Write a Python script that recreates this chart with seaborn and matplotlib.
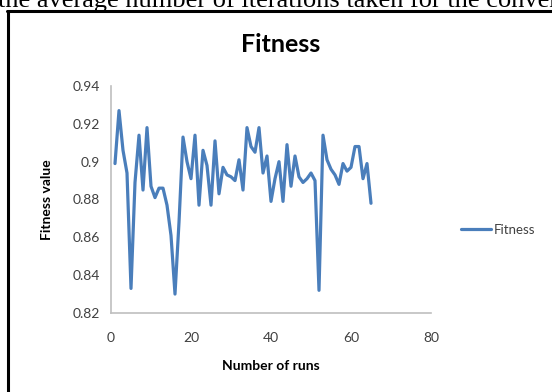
import matplotlib
matplotlib.use("Agg")
import matplotlib.pyplot as plt
from matplotlib.lines import Line2D
import seaborn as sns
import pandas as pd

runs = list(range(1, 66))
fitness = [0.899, 0.927, 0.906, 0.894, 0.833, 0.889, 0.914, 0.885, 0.918, 0.887,
           0.881, 0.886, 0.886, 0.877, 0.861, 0.830, 0.868, 0.913, 0.900, 0.891,
           0.914, 0.877, 0.906, 0.898, 0.877, 0.911, 0.883, 0.897, 0.893, 0.892,
           0.890, 0.901, 0.885, 0.918, 0.908, 0.905, 0.918, 0.894, 0.903, 0.879,
           0.891, 0.900, 0.879, 0.909, 0.887, 0.903, 0.892, 0.889, 0.891, 0.894,
           0.890, 0.832, 0.914, 0.901, 0.896, 0.893, 0.888, 0.899, 0.895, 0.897,
           0.908, 0.908, 0.891, 0.899, 0.878]
x_ticks = [0, 20, 40, 60, 80]
y_ticks = [0.82, 0.84, 0.86, 0.88, 0.9, 0.92, 0.94]
y_tick_labels = ["0.82", "0.84", "0.86", "0.88", "0.9", "0.92", "0.94"]

df = pd.DataFrame({"Run": runs, "Fitness": fitness})

sns.set_theme(style="white")
plt.rcParams["font.family"] = ["Lato", "DejaVu Sans"]

W, H = 552, 392
fig = plt.figure(figsize=(W / 100, H / 100), dpi=100)
fig.patch.set_facecolor("white")

def fx(px):
    return px / W

def fy(py):
    return 1 - py / H

ax = fig.add_axes([fx(111), fy(313), fx(431) - fx(111), fy(86) - fy(313)])
sns.lineplot(data=df, x="Run", y="Fitness", ax=ax, color="#4A7EBB",
             linewidth=2.3, label="Fitness", legend=False)

ax.set_xlim(0, 80)
ax.set_ylim(0.82, 0.94)
ax.set_xticks(x_ticks)
ax.set_yticks(y_ticks)
ax.set_yticklabels(y_tick_labels)
ax.tick_params(axis="y", labelsize=10, colors="#404040", length=0, pad=8)
ax.tick_params(axis="x", labelsize=10, colors="#404040", length=0, pad=14)
for s in ["top", "right"]:
    ax.spines[s].set_visible(False)
for s in ["left", "bottom"]:
    ax.spines[s].set_color("#BFBFBF")
    ax.spines[s].set_linewidth(1.2)

ax.set_xlabel("Number of runs", fontsize=10, fontweight="bold", color="black", labelpad=11)
ax.set_ylabel("Fitness value", fontsize=10, fontweight="bold", color="black", labelpad=14)

fig.text(fx(281), fy(45), "Fitness", ha="center", va="center",
         fontsize=18, fontweight="bold", color="black")

handle = Line2D([], [], color="#4A7EBB", linewidth=2.3)
fig.legend([handle], ["Fitness"], loc="center left",
           bbox_to_anchor=(fx(449), fy(230)), frameon=False, fontsize=9.5,
           handlelength=2.3, handletextpad=0.2, labelcolor="#404040")

# surrounding document text and border
fig.text(fx(-2), fy(7), "the average number of iterations taken for the convergence",
         ha="left", va="baseline", fontsize=19, family="Liberation Serif", color="black")
fig.add_artist(Line2D([fx(8), fx(8)], [fy(11), fy(400)], transform=fig.transFigure,
                      color="black", linewidth=2.2))
fig.add_artist(Line2D([fx(7), fx(560)], [fy(11), fy(11)], transform=fig.transFigure,
                      color="black", linewidth=2.2))

fig.savefig("out.png", dpi=100)
